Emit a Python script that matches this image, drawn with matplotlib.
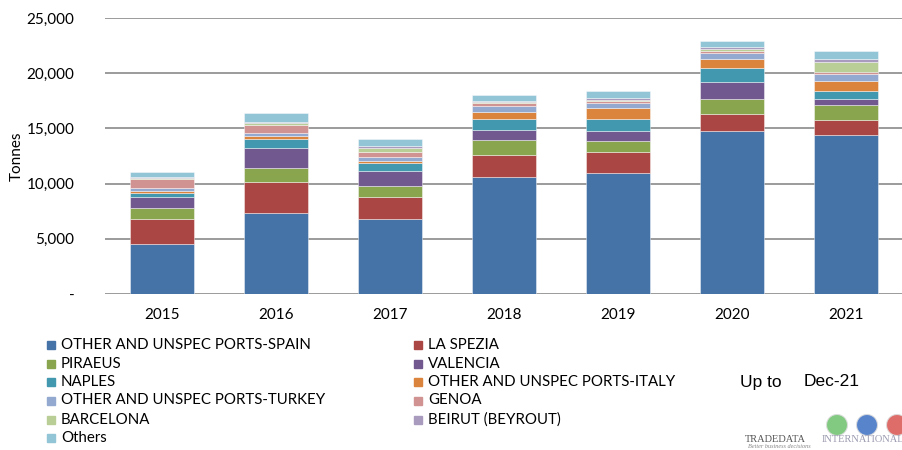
import matplotlib
matplotlib.use("Agg")
import matplotlib.pyplot as plt
from matplotlib.patches import Ellipse
import numpy as np

years = ["2015", "2016", "2017", "2018", "2019", "2020", "2021"]
series_names = [
    "OTHER AND UNSPEC PORTS-SPAIN", "LA SPEZIA", "PIRAEUS", "VALENCIA", "NAPLES",
    "OTHER AND UNSPEC PORTS-ITALY", "OTHER AND UNSPEC PORTS-TURKEY", "GENOA",
    "BARCELONA", "BEIRUT (BEYROUT)", "Others",
]
spain   = [4500, 7310, 6760, 10570, 10990, 14730, 14400]
spezia  = [2320, 2830, 1990, 2050, 1900, 1600, 1330]
piraeus = [970, 1300, 1060, 1300, 940, 1300, 1390]
valencia = [960, 1750, 1300, 960, 900, 1600, 510]
naples  = [430, 880, 730, 940, 1150, 1240, 730]
italy   = [180, 270, 210, 690, 940, 850, 960]
turkey  = [270, 270, 390, 550, 510, 480, 630]
genoa   = [760, 670, 450, 240, 150, 240, 190]
barcelona = [90, 180, 300, 80, 120, 120, 870]
beirut  = [90, 150, 220, 130, 150, 240, 250]
others  = [510, 810, 630, 520, 610, 520, 720]

series = [spain, spezia, piraeus, valencia, naples, italy, turkey, genoa,
          barcelona, beirut, others]
colors = ["#4572A7", "#AA4643", "#89A54E", "#71588F", "#4198AF", "#DB843D",
          "#93A9CF", "#D19392", "#B9CD96", "#A99BBD", "#92C5D6"]

FONT = ["Lato", "DejaVu Sans"]
plt.rcParams["font.family"] = FONT

W, H = 903, 450
fig = plt.figure(figsize=(W / 100, H / 100), dpi=100)
ax = fig.add_axes([105 / W, 1 - 294 / H, 1 - 105 / W, (294 - 18) / H])

x = np.arange(len(years))
bottom = np.zeros(len(years))
for name, vals, c in zip(series_names, series, colors):
    v = np.array(vals, dtype=float)
    ax.bar(x, v, width=0.57, bottom=bottom, color=c, edgecolor=(1, 1, 1, 0.5),
           linewidth=0.6, label=name, zorder=3)
    bottom += v

ax.set_xlim(-0.5, len(years) - 0.5)
ax.set_ylim(0, 25000)
ax.set_yticks([0, 5000, 10000, 15000, 20000, 25000])
ax.set_yticklabels(["-", "5,000", "10,000", "15,000", "20,000", "25,000"])
ax.set_xticks(x)
ax.set_xticklabels(years)
ax.tick_params(axis="both", length=0, labelsize=11, colors="#000000")
ax.tick_params(axis="y", pad=22)
ax.tick_params(axis="x", pad=10)
ax.yaxis.grid(True, color="#8a8a8a", linewidth=1.2, zorder=0)
ax.set_axisbelow(True)
for s in ax.spines.values():
    s.set_visible(False)

fig.text(17 / W, 1 - 156 / H, "Tonnes", fontsize=11, rotation=90,
         va="center", ha="center")

# legend: two columns, row-wise order
left_items = list(range(0, 11, 2))
right_items = list(range(1, 11, 2))
row_y = [345, 363.5, 382, 400.5, 419.5, 438]
for items, mx in ((left_items, 47), (right_items, 414)):
    for r, idx in enumerate(items):
        yy = 1 - row_y[r] / H
        fig.patches.append(plt.Rectangle((mx / W, yy - 4 / H), 8 / W, 8 / H,
                                         transform=fig.transFigure, color=colors[idx]))
        fig.text((mx + 14) / W, yy, series_names[idx], fontsize=10.8, va="center",
                 ha="left", color="#000000")

fig.text(740 / W, 1 - 383 / H, "Up to", fontsize=12.5, family="Liberation Sans",
         va="center", ha="left")
fig.text(804 / W, 1 - 381 / H, "Dec-21", fontsize=12.5, family="Liberation Sans",
         va="center", ha="left")

# logo
for cx, col in ((837, "#6cc06c"), (867, "#3b6fc4"), (897, "#d9534f")):
    fig.patches.append(Ellipse((cx / W, 1 - 425 / H), 21 / W, 21 / H,
                               transform=fig.transFigure, facecolor=col, alpha=0.85,
                               edgecolor="#dddddd", linewidth=0.8))
fig.text(745 / W, 1 - 439 / H, "TRADEDATA", fontsize=7.5, family="Liberation Serif",
         color="#555555", va="center", ha="left")
fig.text(822 / W, 1 - 439 / H, "INTERNATIONAL", fontsize=7.5, family="Liberation Serif",
         color="#9a9ab0", va="center", ha="left")
fig.text(748 / W, 1 - 447 / H, "Better business decisions", fontsize=4.5,
         family="Liberation Serif", style="italic", color="#888888", va="center", ha="left")

fig.savefig("out.png", dpi=100)
